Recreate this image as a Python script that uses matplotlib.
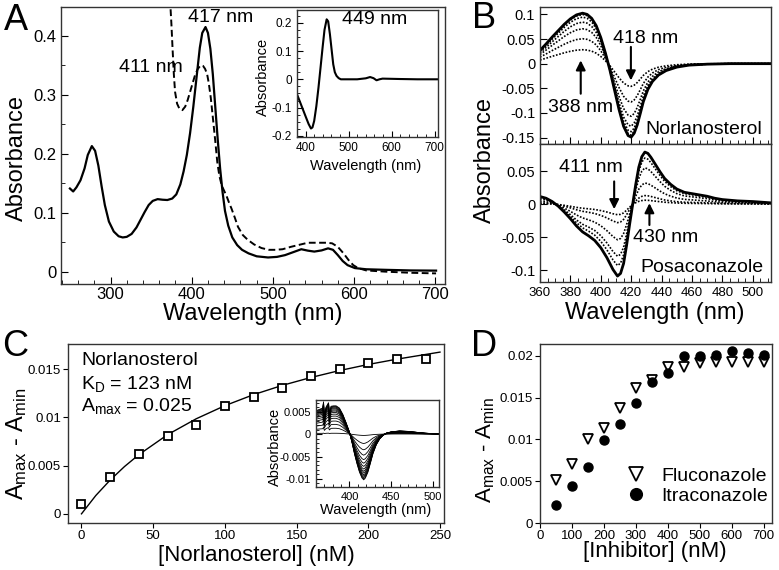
import numpy as np
import matplotlib
matplotlib.use("Agg")
import matplotlib.pyplot as plt
from matplotlib.ticker import MultipleLocator, FormatStrFormatter

plt.rcParams['font.family'] = ['Liberation Sans', 'DejaVu Sans']
plt.rcParams['mathtext.fontset'] = 'custom'
plt.rcParams['mathtext.rm'] = 'Liberation Sans'
plt.rcParams['mathtext.default'] = 'regular'
plt.rcParams['axes.unicode_minus'] = False

# ---- panel A: absolute spectra ----
a_wl_free = [250, 254, 258, 263, 268, 272, 277, 281, 285, 289, 293, 298, 304, 310, 315, 320,
             326, 332, 337, 342, 347, 352, 358, 364, 370, 376, 381, 386, 390, 394, 398, 402,
             406, 410, 413, 417, 420, 423, 426, 429, 432, 435, 438, 441, 445, 450, 456, 462,
             470, 480, 494, 505, 515, 525, 535, 543, 551, 560, 568, 574, 580, 586, 592, 601,
             615, 640, 670, 701]
a_abs_free = [0.141, 0.136, 0.143, 0.155, 0.175, 0.198, 0.213, 0.205, 0.180, 0.145, 0.113, 0.085,
              0.068, 0.060, 0.058, 0.059, 0.064, 0.075, 0.088, 0.101, 0.113, 0.120, 0.123, 0.122,
              0.1215, 0.124, 0.131, 0.148, 0.170, 0.198, 0.235, 0.280, 0.330, 0.380, 0.405, 0.415,
              0.405, 0.378, 0.335, 0.280, 0.225, 0.175, 0.135, 0.103, 0.078, 0.058, 0.045, 0.037,
              0.031, 0.026, 0.024, 0.025, 0.028, 0.033, 0.038, 0.0356, 0.034, 0.036, 0.0395, 0.037,
              0.028, 0.018, 0.011, 0.006, 0.004, 0.003, 0.002, 0.0017]
a_wl_bound = [373, 375, 376.5, 378, 379.5, 382, 385, 388.5, 392, 395, 398, 401, 404, 407.5, 411,
              414, 416.5, 419, 421, 423.5, 426, 429, 431.5, 434, 437, 440, 443, 446, 449, 453,
              457, 463, 469, 477, 486, 495, 503, 512, 522, 531, 543, 555, 566, 573, 580, 587,
              593, 599, 605, 615, 638, 670, 701]
a_abs_bound = [0.47, 0.42, 0.376, 0.335, 0.305, 0.285, 0.276, 0.274, 0.280, 0.291, 0.305, 0.319,
               0.333, 0.344, 0.350, 0.349, 0.344, 0.335, 0.320, 0.295, 0.262, 0.222, 0.186, 0.163,
               0.146, 0.137, 0.128, 0.117, 0.107, 0.092, 0.076, 0.062, 0.054, 0.046, 0.040, 0.037,
               0.037, 0.038, 0.042, 0.045, 0.049, 0.049, 0.049, 0.048, 0.042, 0.031, 0.020, 0.011,
               0.006, 0.002, 0.0, -0.002, -0.003]
# inset: difference spectrum
a_diff_wl = [380, 389, 401, 407, 412.5, 416, 420, 425, 430, 435, 439.5, 444, 449, 452.5, 456.6,
             460.5, 464.3, 468, 472, 477, 482, 520, 540, 550, 558, 565, 572, 579, 620, 660, 708]
a_diff_abs = [-0.053, -0.088, -0.135, -0.158, -0.174, -0.170, -0.147, -0.095, -0.029, 0.045,
              0.112, 0.175, 0.212, 0.205, 0.159, 0.105, 0.053, 0.025, 0.012, 0.004, 0.0, 0.0,
              0.0035, 0.008, 0.004, -0.0035, 0.0, 0.0024, 0.001, 0.0, 0.0]

# ---- panel B: titration difference spectra ----
nor_wl = [360, 364, 368, 372, 376, 380, 384, 388, 391, 394, 397, 400, 403, 406, 409, 412, 415,
          418, 420, 422, 424, 426, 428, 431, 434, 438, 443, 450, 458, 470, 485, 512]
nor_outer = [0.027, 0.040, 0.054, 0.067, 0.080, 0.091, 0.099, 0.1025, 0.100, 0.092, 0.077, 0.053,
             0.022, -0.013, -0.053, -0.093, -0.127, -0.146, -0.149, -0.141, -0.124, -0.101,
             -0.077, -0.052, -0.036, -0.023, -0.014, -0.007, -0.003, -0.001, 0.0, 0.0]
nor_peaks = [0.0283, 0.0506, 0.0708, 0.0843, 0.0945, 0.0999, 0.1025]
nor_troughs = [-0.046, -0.0777, -0.1067, -0.127, -0.138, -0.145, -0.149]

pos_wl = [360, 364, 368, 372, 376, 380, 384, 388, 392, 396, 400, 404, 408, 411, 413, 415, 417,
          419, 421, 423, 425, 427, 429, 431, 433, 436, 439, 442, 446, 450, 455, 460, 465, 470,
          475, 480, 490, 500, 512]
pos_outer = [0.0116, 0.009, 0.004, -0.003, -0.012, -0.022, -0.033, -0.042, -0.048, -0.055,
             -0.066, -0.081, -0.099, -0.109, -0.105, -0.090, -0.062, -0.030, 0.0, 0.030, 0.056,
             0.072, 0.079, 0.077, 0.071, 0.060, 0.049, 0.039, 0.030, 0.023, 0.018, 0.016, 0.014,
             0.012, 0.009, 0.007, 0.005, 0.004, 0.002]
pos_peaks = [0.006, 0.013, 0.032, 0.055, 0.070, 0.079]
pos_troughs = [-0.016, -0.028, -0.054, -0.079, -0.093, -0.109]

# ---- panel C: norlanosterol binding ----
c_conc = [0, 20, 40, 60, 80, 100, 120, 140, 160, 180, 200, 220, 240]
c_dA = [0.00103, 0.00379, 0.00624, 0.00803, 0.00917, 0.01113, 0.01210, 0.01303, 0.01424,
        0.0150, 0.01558, 0.0160, 0.01607]
fit_conc = [0, 10, 20, 30, 40, 60, 80, 100, 120, 140, 160, 180, 200, 220, 250]
fit_dA = [0.0, 0.0019, 0.0035, 0.0049, 0.00613, 0.0082, 0.00985, 0.01121, 0.01235, 0.01331,
          0.01413, 0.01485, 0.01548, 0.01603, 0.01676]
# inset: titration spectra (deepest trace + trough depth of each trace)
ci_wl = [360, 364, 368, 369, 370, 372, 375, 376, 378, 381, 384, 388, 392, 396, 400, 403, 406,
         409, 412, 415, 417, 419, 422, 425, 428, 432, 436, 440, 444, 450, 460, 470, 480, 490,
         500, 507]
ci_outer = [0.0052, 0.0055, 0.0058, 0.0072, 0.0040, 0.0060, 0.0070, 0.0045, 0.0062, 0.0063,
            0.0063, 0.0058, 0.0044, 0.0025, 0.0004, -0.0018, -0.0044, -0.0066, -0.0085, -0.0098,
            -0.0102, -0.0098, -0.0085, -0.0065, -0.0044, -0.0024, -0.0011, -0.0003, 0.0002,
            0.0005, 0.0007, 0.0006, 0.0004, 0.0002, 0.0001, 0.0]
ci_depths = [-0.0003, -0.0021, -0.0035, -0.0047, -0.0057, -0.0065, -0.0072, -0.0078, -0.0083,
             -0.0087, -0.0091, -0.0094, -0.0097, -0.0100, -0.0102]

# ---- panel D: azole binding ----
d_conc = [50, 100, 150, 200, 250, 300, 350, 400, 450, 500, 550, 600, 650, 700]
d_flu = [0.00517, 0.00708, 0.01002, 0.01133, 0.0138, 0.0161, 0.0171, 0.0187, 0.0187, 0.0191,
         0.0192, 0.0192, 0.0193, 0.0192]
d_itra = [0.00218, 0.00445, 0.00664, 0.00994, 0.0118, 0.0143, 0.0168, 0.0179, 0.0200, 0.0200,
          0.0201, 0.0206, 0.0203, 0.0201]

W, H = 779, 570
fig = plt.figure(figsize=(W / 100, H / 100), dpi=100)


def box(l, t, r, b):
    ax = fig.add_axes([l / W, 1 - b / H, (r - l) / W, (b - t) / H])
    for s in ax.spines.values():
        s.set_color('#333333')
        s.set_linewidth(1.0)
    return ax


def ftext(x, y, s, size, rot=0):
    fig.text(x / W, 1 - y / H, s, ha='center', va='center', fontsize=size, rotation=rot)


gfmt = FormatStrFormatter('%g')

# panel A
axA = box(61, 7, 445, 284)
axA.plot(a_wl_free, a_abs_free, color='k', lw=1.6)
axA.plot(a_wl_bound, a_abs_bound, color='k', lw=1.4, ls=(0, (3.5, 1.8)))
axA.set_xlim(239, 712)
axA.set_ylim(-0.021, 0.449)
axA.xaxis.set_major_locator(MultipleLocator(100))
axA.xaxis.set_minor_locator(MultipleLocator(20))
axA.yaxis.set_major_locator(MultipleLocator(0.1))
axA.yaxis.set_minor_locator(MultipleLocator(0.05))
axA.yaxis.set_major_formatter(gfmt)
axA.tick_params(which='both', direction='in', labelsize=12)
axA.tick_params(which='major', length=5)
axA.tick_params(which='minor', length=3)
axA.tick_params(axis='x', pad=2.5)
axA.text(435.5, 0.431, '417 nm', fontsize=14, ha='center', va='center')
axA.text(350, 0.346, '411 nm', fontsize=14, ha='center', va='center')

axAi = box(297, 10, 438, 137)
axAi.plot(a_diff_wl, a_diff_abs, color='k', lw=1.5)
axAi.set_xlim(380, 708)
axAi.set_ylim(-0.204, 0.245)
axAi.xaxis.set_major_locator(MultipleLocator(100))
axAi.xaxis.set_minor_locator(MultipleLocator(20))
axAi.yaxis.set_major_locator(MultipleLocator(0.1))
axAi.yaxis.set_minor_locator(MultipleLocator(0.025))
axAi.yaxis.set_major_formatter(gfmt)
axAi.tick_params(which='both', direction='in', labelsize=8.5)
axAi.tick_params(which='major', length=4)
axAi.tick_params(which='minor', length=2)
axAi.text(560, 0.212, '449 nm', fontsize=14, ha='center', va='center')
ftext(366, 166, 'Wavelength (nm)', 10.5)
ftext(263, 77, 'Absorbance', 10.5, 90)

ftext(253, 314, 'Wavelength (nm)', 17)
ftext(17, 158, 'Absorbance', 17, 90)
ftext(16, 21, 'A', 26)

# panel B
axB1 = box(540, 7, 771, 143.5)
axB2 = box(540, 143.5, 771, 282)
nor_outer_a = np.array(nor_outer)
for i, (pk, tr) in enumerate(zip(nor_peaks, nor_troughs)):
    y = np.where(nor_outer_a > 0, nor_outer_a * pk / nor_outer_a.max(),
                 nor_outer_a * tr / nor_outer_a.min())
    if i == len(nor_peaks) - 1:
        axB1.plot(nor_wl, y, color='k', lw=2.0)
    else:
        axB1.plot(nor_wl, y, color='k', lw=1.2, ls=(0, (1, 1)))
pos_outer_a = np.array(pos_outer)
for i, (pk, tr) in enumerate(zip(pos_peaks, pos_troughs)):
    y = np.where(pos_outer_a > 0, pos_outer_a * pk / pos_outer_a.max(),
                 pos_outer_a * tr / pos_outer_a.min())
    if i == len(pos_peaks) - 1:
        axB2.plot(pos_wl, y, color='k', lw=2.0)
    else:
        axB2.plot(pos_wl, y, color='k', lw=1.2, ls=(0, (1, 1)))

for ax in (axB1, axB2):
    ax.set_xlim(360, 512)
    ax.xaxis.set_major_locator(MultipleLocator(20))
    ax.xaxis.set_minor_locator(MultipleLocator(5))
    ax.yaxis.set_major_locator(MultipleLocator(0.05))
    ax.yaxis.set_major_formatter(gfmt)
    ax.tick_params(which='both', direction='in')
    ax.tick_params(which='major', length=5)
    ax.tick_params(which='minor', length=3)
    ax.tick_params(axis='y', labelsize=10.5)
    ax.tick_params(axis='x', labelsize=9.5)
axB1.set_ylim(-0.162, 0.115)
axB1.tick_params(axis='x', labelbottom=False)
axB2.set_ylim(-0.118, 0.092)

arrow = dict(arrowstyle='-|>', color='k', lw=1.5, mutation_scale=14, shrinkA=0, shrinkB=0)
axB1.annotate('', xy=(386.8, 0.0067), xytext=(386.8, -0.061), arrowprops=arrow)
axB1.annotate('', xy=(419.8, -0.034), xytext=(419.8, 0.034), arrowprops=arrow)
axB1.text(386.4, -0.0895, '388 nm', fontsize=14, ha='center', va='center')
axB1.text(429.7, 0.0506, '418 nm', fontsize=14, ha='center', va='center')
axB1.text(506, -0.133, 'Norlanosterol', fontsize=14, ha='right', va='center')
axB2.annotate('', xy=(408.8, -0.0076), xytext=(408.8, 0.0345), arrowprops=arrow)
axB2.annotate('', xy=(432, 0.0015), xytext=(432, -0.0316), arrowprops=arrow)
axB2.text(393.8, 0.0561, '411 nm', fontsize=14, ha='center', va='center')
axB2.text(442.9, -0.0506, '430 nm', fontsize=14, ha='center', va='center')
axB2.text(507, -0.0963, 'Posaconazole', fontsize=14, ha='right', va='center')

ftext(655, 313, 'Wavelength (nm)', 17)
ftext(485, 160, 'Absorbance', 17, 90)
ftext(484, 19, 'B', 26)

# panel C
axC = box(68, 344, 444, 523)
axC.plot(fit_conc, fit_dA, color='k', lw=1.0)
axC.plot(c_conc, c_dA, ls='none', marker='s', ms=6, mfc='white', mec='k', mew=1.3)
axC.set_xlim(-9.4, 252.8)
axC.set_ylim(-0.00095, 0.0176)
axC.xaxis.set_major_locator(MultipleLocator(50))
axC.yaxis.set_major_locator(MultipleLocator(0.005))
axC.yaxis.set_major_formatter(gfmt)
axC.tick_params(direction='out', length=3.5, pad=1.5, labelsize=9.5)
axC.text(0, 0.0159, 'Norlanosterol', fontsize=14, ha='left', va='center')
axC.text(0, 0.0135, r'K$_\mathrm{D}$ = 123 nM', fontsize=14, ha='left', va='center')
axC.text(0, 0.0112, r'A$_\mathrm{max}$ = 0.025', fontsize=14, ha='left', va='center')

axCi = box(316, 400, 439, 487)
ci_outer_a = np.array(ci_outer)
for d in ci_depths:
    axCi.plot(ci_wl, ci_outer_a * d / ci_outer_a.min(), color='k', lw=0.6)
axCi.set_xlim(360, 507)
axCi.set_ylim(-0.0118, 0.0076)
axCi.xaxis.set_major_locator(MultipleLocator(50))
axCi.xaxis.set_minor_locator(MultipleLocator(10))
axCi.yaxis.set_major_locator(MultipleLocator(0.005))
axCi.yaxis.set_minor_locator(MultipleLocator(0.001))
axCi.yaxis.set_major_formatter(gfmt)
axCi.tick_params(which='both', direction='in', labelsize=8)
axCi.tick_params(which='major', length=4)
axCi.tick_params(which='minor', length=2)
ftext(376, 510, 'Wavelength (nm)', 10.5)
ftext(275, 447, 'Absorbance', 10.5, 90)

ftext(256, 555, '[Norlanosterol] (nM)', 16)
ftext(17, 444, r'A$_\mathrm{max}$ - A$_\mathrm{min}$', 17, 90)
ftext(15, 347, 'C', 26)

# panel D
axD = box(540, 344, 772, 523)
axD.plot(d_conc, d_flu, ls='none', marker='v', ms=7.5, mfc='white', mec='k', mew=1.3,
         label='Fluconazole')
axD.plot(d_conc, d_itra, ls='none', marker='o', ms=6.5, color='k', label='Itraconazole')
axD.set_xlim(0, 726)
axD.set_ylim(0, 0.0214)
axD.xaxis.set_major_locator(MultipleLocator(100))
axD.yaxis.set_major_locator(MultipleLocator(0.005))
axD.yaxis.set_major_formatter(gfmt)
axD.tick_params(direction='out', length=3.5, pad=1.5, labelsize=9.5)
axD.legend(loc='lower right', bbox_to_anchor=(1.017, 0.056), borderaxespad=0,
           frameon=False, fontsize=14, markerscale=1.3,
           handletextpad=0.3, labelspacing=0.15)

ftext(655, 552, '[Inhibitor] (nM)', 16)
ftext(486, 450, r'A$_\mathrm{max}$ - A$_\mathrm{min}$', 16, 90)
ftext(484, 347, 'D', 26)

fig.savefig('out.png', dpi=100)
